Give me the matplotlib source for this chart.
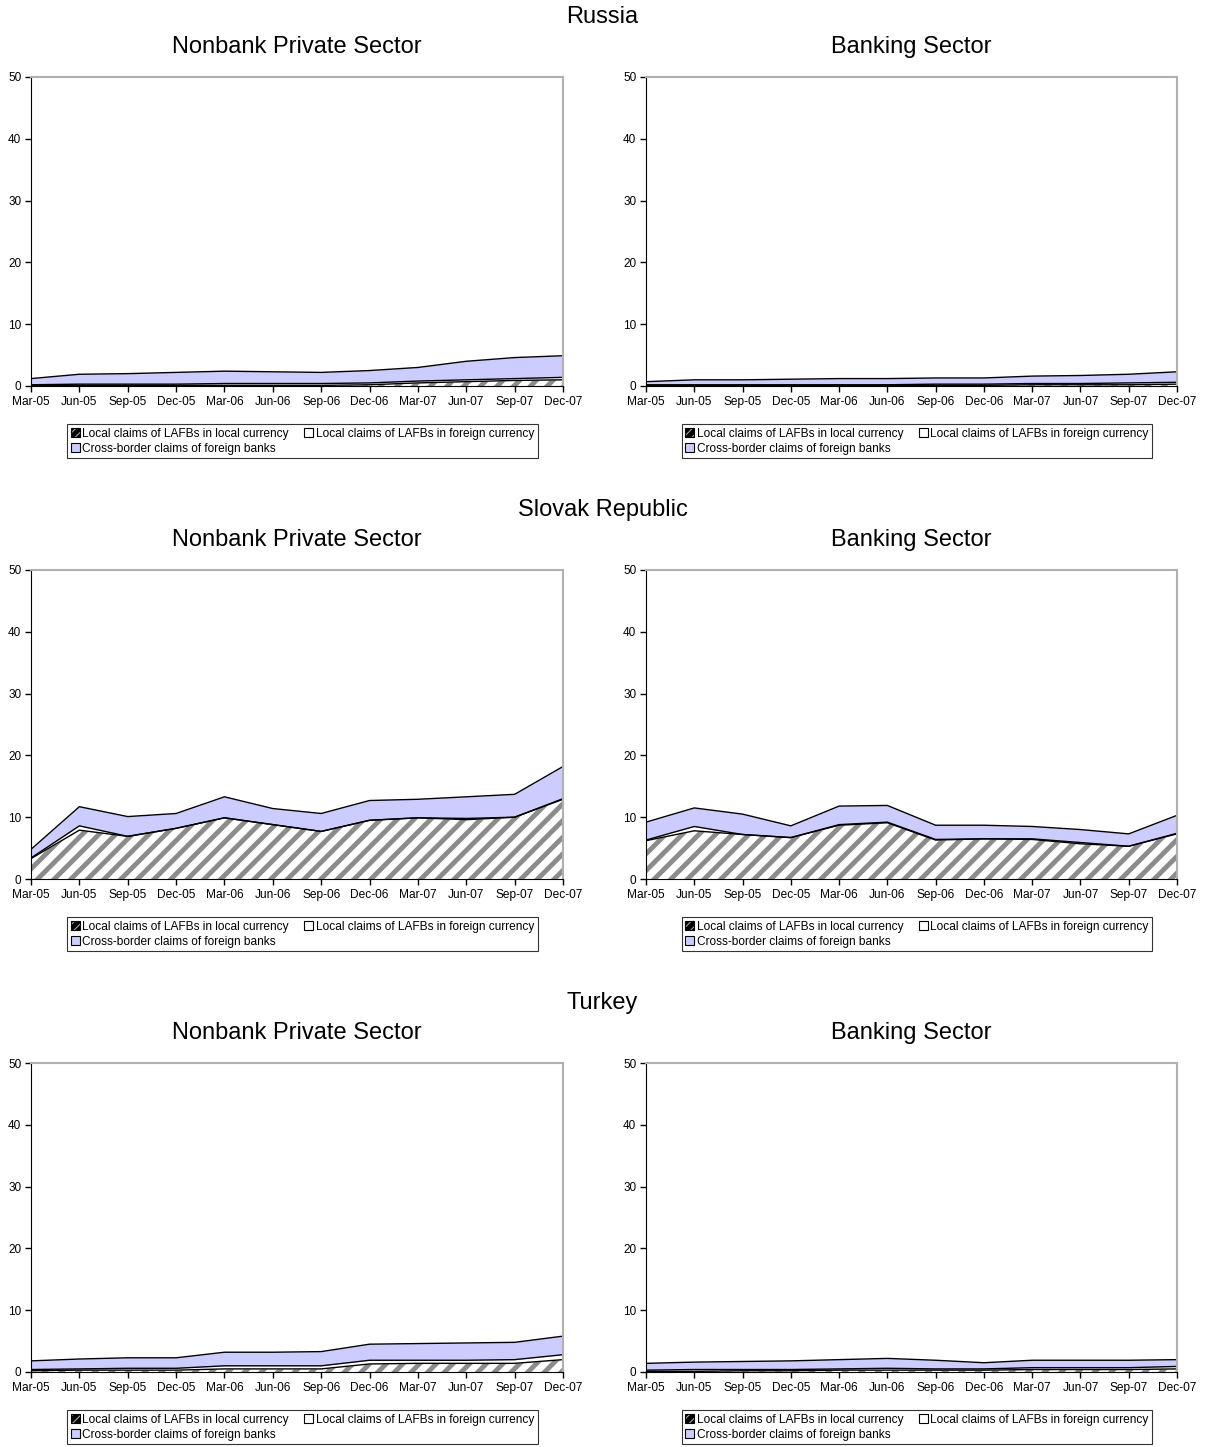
import numpy as np
import matplotlib
matplotlib.use("Agg")
import matplotlib.pyplot as plt

plt.rcParams['font.family'] = ['Liberation Sans', 'DejaVu Sans']
plt.rcParams['hatch.linewidth'] = 3.5
plt.rcParams['hatch.color'] = '#8c8c8c'

# Trimestres
quarters = ['Mar-05', 'Jun-05', 'Sep-05', 'Dec-05', 'Mar-06', 'Jun-06',
            'Sep-06', 'Dec-06', 'Mar-07', 'Jun-07', 'Sep-07', 'Dec-07']

countries = ['Russia', 'Slovak Republic', 'Turkey']
sectors = ['Nonbank Private Sector', 'Banking Sector']

series_names = ['Local claims of LAFBs in local currency',
                'Local claims of LAFBs in foreign currency',
                'Cross-border claims of foreign banks']

# Russia - setor privado não bancário
ru_nps_local = [0.1, 0.1, 0.1, 0.1, 0.1, 0.1, 0.1, 0.2, 0.5, 0.7, 0.9, 1.0]
ru_nps_foreign = [0.1, 0.2, 0.2, 0.2, 0.3, 0.3, 0.3, 0.3, 0.3, 0.3, 0.3, 0.4]
ru_nps_cross = [1.0, 1.6, 1.7, 1.9, 2.0, 1.9, 1.8, 2.0, 2.2, 3.0, 3.4, 3.5]
# Russia - setor bancário
ru_bank_local = [0.05, 0.05, 0.05, 0.05, 0.05, 0.05, 0.1, 0.1, 0.2, 0.2, 0.2, 0.3]
ru_bank_foreign = [0.15, 0.15, 0.15, 0.15, 0.15, 0.15, 0.2, 0.2, 0.2, 0.2, 0.3, 0.3]
ru_bank_cross = [0.5, 0.8, 0.8, 0.9, 1.0, 1.0, 1.0, 1.0, 1.2, 1.3, 1.4, 1.7]

# Eslováquia
sk_nps_local = [3.3, 7.9, 6.9, 8.2, 9.9, 8.8, 7.7, 9.5, 9.9, 9.6, 10.0, 12.9]
sk_nps_foreign = [0.1, 0.7, 0.0, 0.0, 0.0, 0.0, 0.0, 0.0, 0.0, 0.2, 0.0, 0.1]
sk_nps_cross = [1.4, 3.1, 3.2, 2.4, 3.4, 2.6, 2.9, 3.2, 3.0, 3.5, 3.7, 5.2]
sk_bank_local = [6.2, 7.8, 7.2, 6.7, 8.7, 9.1, 6.3, 6.5, 6.4, 5.7, 5.3, 7.3]
sk_bank_foreign = [0.1, 0.7, 0.0, 0.0, 0.1, 0.1, 0.1, 0.0, 0.1, 0.2, 0.0, 0.1]
sk_bank_cross = [2.9, 3.0, 3.3, 1.9, 3.0, 2.7, 2.3, 2.2, 2.0, 2.1, 2.0, 2.9]

# Turquia
tr_nps_local = [0.2, 0.3, 0.3, 0.3, 0.5, 0.5, 0.5, 1.3, 1.4, 1.4, 1.4, 2.0]
tr_nps_foreign = [0.2, 0.2, 0.3, 0.3, 0.5, 0.5, 0.5, 0.6, 0.5, 0.5, 0.6, 0.8]
tr_nps_cross = [1.4, 1.6, 1.7, 1.7, 2.2, 2.2, 2.3, 2.6, 2.7, 2.8, 2.8, 3.0]
tr_bank_local = [0.1, 0.1, 0.2, 0.2, 0.3, 0.3, 0.3, 0.3, 0.4, 0.4, 0.4, 0.5]
tr_bank_foreign = [0.2, 0.3, 0.2, 0.2, 0.2, 0.3, 0.2, 0.2, 0.3, 0.3, 0.3, 0.4]
tr_bank_cross = [1.1, 1.2, 1.3, 1.4, 1.5, 1.6, 1.4, 1.0, 1.2, 1.2, 1.2, 1.1]

data = {
    ('Russia', 0): (ru_nps_local, ru_nps_foreign, ru_nps_cross),
    ('Russia', 1): (ru_bank_local, ru_bank_foreign, ru_bank_cross),
    ('Slovak Republic', 0): (sk_nps_local, sk_nps_foreign, sk_nps_cross),
    ('Slovak Republic', 1): (sk_bank_local, sk_bank_foreign, sk_bank_cross),
    ('Turkey', 0): (tr_nps_local, tr_nps_foreign, tr_nps_cross),
    ('Turkey', 1): (tr_bank_local, tr_bank_foreign, tr_bank_cross),
}

W, H = 1205, 1447
fig = plt.figure(figsize=(W / 100, H / 100), dpi=100)

x = np.arange(len(quarters))
lefts = [31, 646]
widths = [532, 531]
bottoms = [386, 879, 1372]
ax_h = 309

for r, country in enumerate(countries):
    fig.text(0.5, 1 - (bottoms[r] - 369) / H, country, ha='center', va='center', fontsize=17)
    for c in range(2):
        ax = fig.add_axes([lefts[c] / W, 1 - bottoms[r] / H, widths[c] / W, ax_h / H])
        local, foreign, cross = [np.array(s) for s in data[(country, c)]]
        y1 = local
        y2 = local + foreign
        y3 = y2 + cross

        ax.fill_between(x, 0, y1, facecolor='white', hatch='//', edgecolor='#8c8c8c', linewidth=0)
        ax.plot(x, y1, color='black', lw=1)
        ax.fill_between(x, y1, y2, facecolor='white', edgecolor='black', linewidth=0)
        ax.plot(x, y2, color='black', lw=1)
        ax.fill_between(x, y2, y3, facecolor='#ccccff', edgecolor='black', linewidth=0)
        ax.plot(x, y3, color='black', lw=1)

        ax.set_xlim(0, 11)
        ax.set_ylim(0, 50)
        ax.set_yticks(range(0, 51, 10))
        ax.set_xticks(x)
        ax.set_xticklabels(quarters)
        ax.tick_params(axis='x', labelsize=8.6, direction='out', length=4, width=1, pad=3)
        ax.tick_params(axis='y', labelsize=8.5, direction='out', length=4, width=1, pad=3)
        ax.spines['left'].set_color('black')
        ax.spines['bottom'].set_color('black')
        ax.spines['top'].set_color('#b0b0b0')
        ax.spines['right'].set_color('#b0b0b0')
        ax.spines['top'].set_linewidth(1.5)
        ax.spines['right'].set_linewidth(1.5)

        # título do setor
        cx = (lefts[c] + widths[c] / 2) / W
        fig.text(cx, 1 - (bottoms[r] - 339) / H, sectors[c], ha='center', va='center',
                 fontsize=17)

        p1 = plt.Rectangle((0, 0), 1, 1, facecolor='#b0b0b0', edgecolor='black', lw=0.8,
                           hatch='////')
        p2 = plt.Rectangle((0, 0), 1, 1, facecolor='white', edgecolor='black', lw=0.8)
        p3 = plt.Rectangle((0, 0), 1, 1, facecolor='#ccccff', edgecolor='black', lw=0.8)
        leg = ax.legend([p1, p3, p2], [series_names[0], series_names[2], series_names[1]],
                        ncol=2, loc='upper center', bbox_to_anchor=(0.51, -0.123),
                        fontsize=8.6, frameon=True, fancybox=False, handlelength=0.75,
                        handleheight=0.75, handletextpad=0.2, columnspacing=1.3,
                        borderpad=0.3, labelspacing=0.25, borderaxespad=0)
        leg.get_frame().set_edgecolor('black')
        leg.get_frame().set_linewidth(0.8)

fig.savefig('out.png', dpi=100)
